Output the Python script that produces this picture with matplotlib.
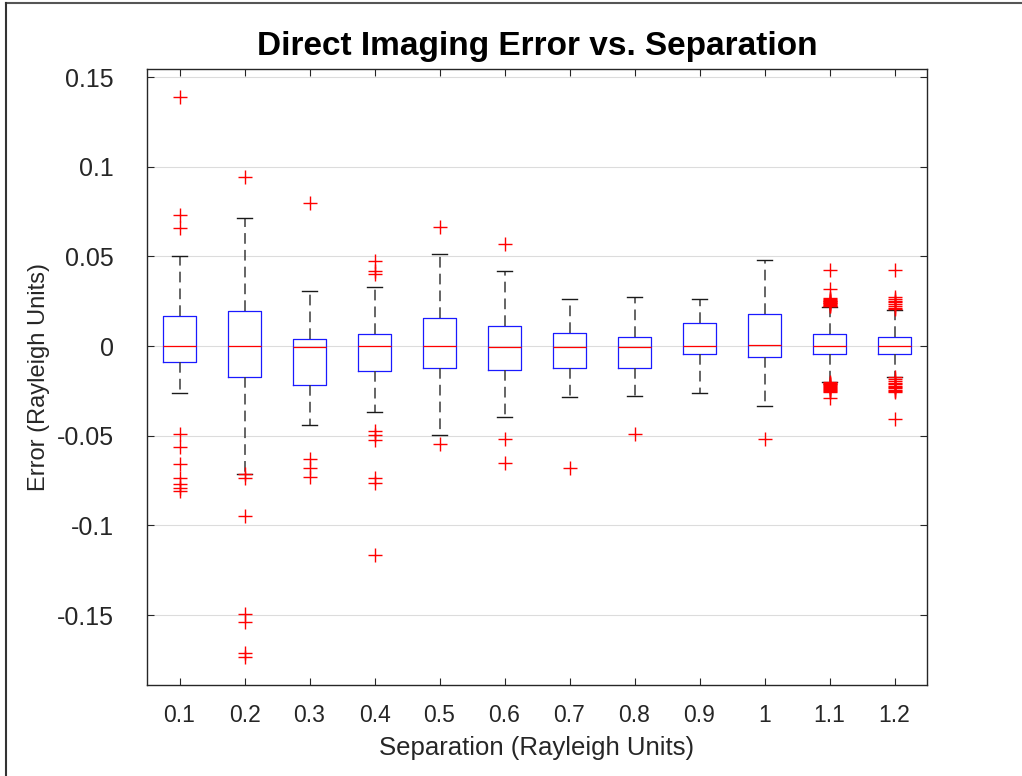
import matplotlib
matplotlib.use("Agg")
import matplotlib.pyplot as plt
from matplotlib.lines import Line2D

plt.rcParams['font.family'] = ['Liberation Sans', 'DejaVu Sans']

# ---------------- data ----------------
separation_labels = ['0.1', '0.2', '0.3', '0.4', '0.5', '0.6',
                     '0.7', '0.8', '0.9', '1', '1.1', '1.2']

medians = [0.0002, 0.0002, -0.0007, -0.0002, 0.0002, -0.0006,
           -0.0006, -0.0004, 0.0002, 0.0004, 0.0002, 0.0002]
q1 = [-0.0089, -0.0171, -0.0216, -0.0138, -0.0123, -0.0136,
      -0.0123, -0.0123, -0.0043, -0.0061, -0.0043, -0.0045]
q3 = [0.0167, 0.0197, 0.0039, 0.0065, 0.0154, 0.0113,
      0.0074, 0.0052, 0.0130, 0.0178, 0.0065, 0.0052]
whisker_low = [-0.0264, -0.0712, -0.0439, -0.0366, -0.0494, -0.0396,
               -0.0284, -0.0280, -0.0264, -0.0333, -0.0198, -0.0172]
whisker_high = [0.0500, 0.0712, 0.0307, 0.0329, 0.0511, 0.0420,
                0.0262, 0.0273, 0.0264, 0.0479, 0.0218, 0.0200]

outliers_01 = [0.139, 0.073, 0.066, -0.049, -0.0565, -0.066, -0.0735,
               -0.077, -0.079, -0.081]
outliers_02 = [0.094, -0.0715, -0.0738, -0.0948, -0.1496, -0.154,
               -0.171, -0.1735]
outliers_03 = [0.0795, -0.0632, -0.0678, -0.0728]
outliers_04 = [0.0476, 0.0418, 0.0401, -0.0476, -0.0498, -0.0524,
               -0.0738, -0.0766, -0.1167]
outliers_05 = [0.0662, -0.0548]
outliers_06 = [0.0567, -0.0517, -0.065]
outliers_07 = [-0.0678]
outliers_08 = [-0.0492]
outliers_09 = []
outliers_10 = [-0.052]
outliers_11 = [0.0424, 0.0321, 0.0268, 0.0262, 0.0258, 0.0254, 0.0250,
               0.0246, 0.0242, 0.0238, 0.0234, 0.0230, 0.0226, 0.0222,
               -0.0202, -0.0206, -0.0210, -0.0214, -0.0218, -0.0223,
               -0.0229, -0.0234, -0.0240, -0.0246, -0.0251, -0.0257,
               -0.0290]
outliers_12 = [0.0424, 0.0275, 0.0262, 0.0252, 0.0243, 0.0234, 0.0225,
               0.0215, 0.0205, -0.0175, -0.0185, -0.0195, -0.0205,
               -0.0212, -0.0220, -0.0228, -0.0236, -0.0244, -0.0250,
               -0.0256, -0.0409]

outliers = [outliers_01, outliers_02, outliers_03, outliers_04, outliers_05,
            outliers_06, outliers_07, outliers_08, outliers_09, outliers_10,
            outliers_11, outliers_12]

y_ticks = [-0.15, -0.1, -0.05, 0, 0.05, 0.1, 0.15]
y_tick_labels = ['-0.15', '-0.1', '-0.05', '0', '0.05', '0.1', '0.15']

# ---------------- figure ----------------
fig = plt.figure(figsize=(10.22, 7.76), dpi=100)
ax = fig.add_axes([147 / 1022, 91 / 776, 780 / 1022, 616 / 776])

stats = []
for i in range(len(separation_labels)):
    stats.append(dict(med=medians[i], q1=q1[i], q3=q3[i],
                      whislo=whisker_low[i], whishi=whisker_high[i],
                      fliers=outliers[i], label=separation_labels[i]))

positions = list(range(1, len(stats) + 1))
ax.bxp(stats, positions=positions, widths=0.5, capwidths=0.22,
       showfliers=True, patch_artist=False,
       boxprops=dict(color='#1a1aff', linewidth=0.9),
       medianprops=dict(color='#ff0000', linewidth=0.9),
       whiskerprops=dict(color='#3a3a3a', linewidth=1.1,
                         linestyle=(0, (7, 4))),
       capprops=dict(color='#1a1a1a', linewidth=1.0),
       flierprops=dict(marker='+', markeredgecolor='#ff0000',
                       markerfacecolor='none', markersize=10,
                       markeredgewidth=1.0, linestyle='none'))

ax.set_xlim(0.5, 12.5)
ax.set_ylim(-0.189, 0.1545)
ax.set_xticks(positions)
ax.set_xticklabels(separation_labels)
ax.set_yticks(y_ticks)
ax.set_yticklabels(y_tick_labels)

ax.yaxis.grid(True, color='#dcdcdc', linewidth=0.8)
ax.set_axisbelow(True)

axis_color = '#262626'
for sp in ax.spines.values():
    sp.set_color(axis_color)
    sp.set_linewidth(1.0)
ax.tick_params(direction='in', length=5, width=0.8, colors=axis_color,
               top=True, right=True)
ax.tick_params(axis='x', pad=14, labelsize=16.5)
ax.tick_params(axis='y', pad=24, labelsize=18)

ax.set_title('Direct Imaging Error vs. Separation', fontsize=24,
             fontweight='bold', color='black', pad=10)
ax.set_xlabel('Separation (Rayleigh Units)', fontsize=18.5, color=axis_color,
              labelpad=6)
ax.set_ylabel('Error (Rayleigh Units)', fontsize=17, color=axis_color,
              labelpad=5)

# outer frame lines (top and left edges of the image)
fig.add_artist(Line2D([6 / 1022, 1.0], [1 - 3 / 776, 1 - 3 / 776],
                      transform=fig.transFigure, color='#555555',
                      linewidth=1.5))
fig.add_artist(Line2D([6 / 1022, 6 / 1022], [0.0, 1 - 3 / 776],
                      transform=fig.transFigure, color='#333333',
                      linewidth=1.5))

fig.savefig('out.png', dpi=100, facecolor='white')
